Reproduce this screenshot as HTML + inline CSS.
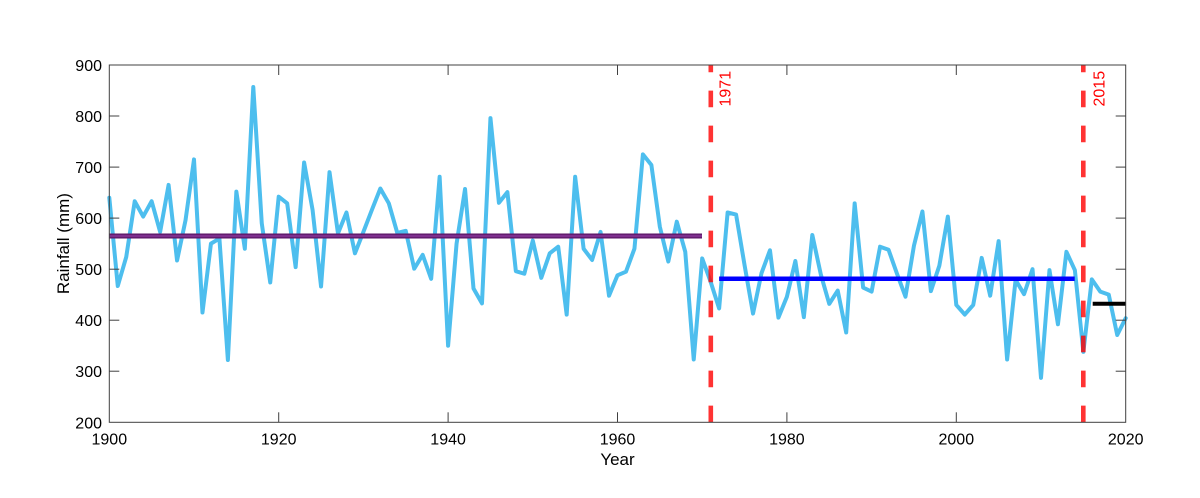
<!DOCTYPE html>
<html>
<head>
<meta charset="utf-8">
<style>
  html, body { margin: 0; padding: 0; background: #ffffff; }
  svg { display: block; }
  text { font-family: "Liberation Sans", Arial, Helvetica, sans-serif; fill: #000; }
</style>
</head>
<body>
<svg width="1200" height="498" viewBox="0 0 1200 498" xmlns="http://www.w3.org/2000/svg">
  <rect x="0" y="0" width="1200" height="498" fill="#ffffff"/>

  <!-- rainfall series, data coords: x = year-1900, y = mm -->
  <polyline transform="matrix(8.47 0 0 -0.5104 109.3 524.36)"
    fill="none" stroke="#4DBEEE" stroke-width="4" stroke-linejoin="round" stroke-linecap="round"
    vector-effect="non-scaling-stroke"
    points="0,640 1,467 2,524 3,633 4,603 5,633 6,573 7,665 8,517 9,596 10,715 11,415 12,550 13,560 14,322 15,652 16,540 17,857 18,590 19,474 20,642 21,629 22,504 23,709 24,616 25,466 26,690 27,570 28,611 29,531 30,573 31,616 32,658 33,629 34,571 35,575 36,501 37,528 38,481 39,681 40,350 41,550 42,657 43,462 44,433 45,796 46,630 47,651 48,496 49,491 50,556 51,483 52,531 53,544 54,411 55,681 56,540 57,518 58,573 59,448 60,488 61,495 62,540 63,725 64,704 65,583 66,515 67,593 68,534 69,323 70,521 71,475 72,423 73,611 74,607 75,508 76,413 77,492 78,537 79,405 80,446 81,516 82,406 83,567 84,490 85,432 86,458 87,376 88,629 89,464 90,456 91,544 92,538 93,491 94,446 95,546 96,613 97,457 98,507 99,603 100,430 101,411 102,430 103,522 104,448 105,555 106,323 107,479 108,451 109,500 110,287 111,498 112,392 113,534 114,498 115,338 116,480 117,456 118,450 119,371 120,404"/>

  <!-- mean lines -->
  <line x1="109.3" y1="557.5" x2="702" y2="557.5" stroke="none"/>
  <line x1="109.3" y1="236.0" x2="702" y2="236.0" stroke="#5a1565" stroke-width="5"/>
  <line x1="109.3" y1="236.0" x2="702" y2="236.0" stroke="#7E2F8E" stroke-width="2.4"/>
  <line x1="719.1" y1="278.8" x2="1074.7" y2="278.8" stroke="#0000ff" stroke-width="4.5"/>
  <line x1="1092.7" y1="303.8" x2="1125.7" y2="303.8" stroke="#000000" stroke-width="4"/>

  <!-- change-point dashed lines -->
  <line x1="710.8" y1="422.3" x2="710.8" y2="65" stroke="#ff0000" stroke-opacity="0.8" stroke-width="4.6" stroke-dasharray="16.7 18.3"/>
  <line x1="1083.3" y1="422.3" x2="1083.3" y2="65" stroke="#ff0000" stroke-opacity="0.8" stroke-width="4.6" stroke-dasharray="16.7 18.3"/>
  <text transform="translate(730.5,106.5) rotate(-90)" font-size="16" style="fill:#ff0000">1971</text>
  <text transform="translate(1104.5,106.5) rotate(-90)" font-size="16" style="fill:#ff0000">2015</text>

  <!-- axes box -->
  <rect x="109.3" y="65" width="1016.4" height="357.3" fill="none" stroke="#404040" stroke-width="1"/>

  <!-- x ticks -->
  <g stroke="#404040" stroke-width="1">
    <line x1="278.7" y1="422.3" x2="278.7" y2="412.3"/><line x1="278.7" y1="65" x2="278.7" y2="75"/>
    <line x1="448.1" y1="422.3" x2="448.1" y2="412.3"/><line x1="448.1" y1="65" x2="448.1" y2="75"/>
    <line x1="617.5" y1="422.3" x2="617.5" y2="412.3"/><line x1="617.5" y1="65" x2="617.5" y2="75"/>
    <line x1="786.9" y1="422.3" x2="786.9" y2="412.3"/><line x1="786.9" y1="65" x2="786.9" y2="75"/>
    <line x1="956.3" y1="422.3" x2="956.3" y2="412.3"/><line x1="956.3" y1="65" x2="956.3" y2="75"/>
    <!-- y ticks -->
    <line x1="109.3" y1="116.0" x2="119.3" y2="116.0"/><line x1="1125.7" y1="116.0" x2="1115.7" y2="116.0"/>
    <line x1="109.3" y1="167.1" x2="119.3" y2="167.1"/><line x1="1125.7" y1="167.1" x2="1115.7" y2="167.1"/>
    <line x1="109.3" y1="218.1" x2="119.3" y2="218.1"/><line x1="1125.7" y1="218.1" x2="1115.7" y2="218.1"/>
    <line x1="109.3" y1="269.2" x2="119.3" y2="269.2"/><line x1="1125.7" y1="269.2" x2="1115.7" y2="269.2"/>
    <line x1="109.3" y1="320.2" x2="119.3" y2="320.2"/><line x1="1125.7" y1="320.2" x2="1115.7" y2="320.2"/>
    <line x1="109.3" y1="371.2" x2="119.3" y2="371.2"/><line x1="1125.7" y1="371.2" x2="1115.7" y2="371.2"/>
  </g>

  <!-- y tick labels -->
  <g font-size="16" text-anchor="end">
    <text x="102" y="71">900</text>
    <text x="102" y="122">800</text>
    <text x="102" y="173.1">700</text>
    <text x="102" y="224.1">600</text>
    <text x="102" y="275.2">500</text>
    <text x="102" y="326.2">400</text>
    <text x="102" y="377.2">300</text>
    <text x="102" y="428.3">200</text>
  </g>

  <!-- x tick labels -->
  <g font-size="16" text-anchor="middle">
    <text x="109.3" y="444.3">1900</text>
    <text x="278.7" y="444.3">1920</text>
    <text x="448.1" y="444.3">1940</text>
    <text x="617.5" y="444.3">1960</text>
    <text x="786.9" y="444.3">1980</text>
    <text x="956.3" y="444.3">2000</text>
    <text x="1125.7" y="444.3">2020</text>
  </g>

  <!-- axis labels -->
  <text x="617.5" y="465" font-size="17" text-anchor="middle">Year</text>
  <text transform="translate(69,243.6) rotate(-90)" font-size="17" text-anchor="middle">Rainfall (mm)</text>
</svg>
</body>
</html>
